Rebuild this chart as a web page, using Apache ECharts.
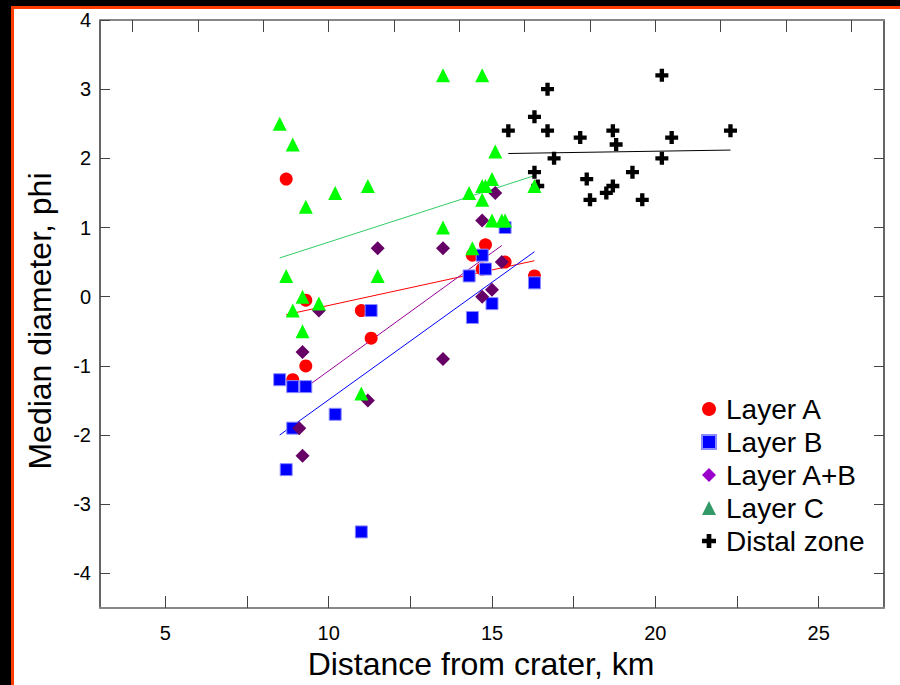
<!DOCTYPE html>
<html>
<head>
<meta charset="utf-8">
<script src="https://cdn.jsdelivr.net/npm/echarts@6/dist/echarts.min.js"></script>
<style>
  html, body { margin: 0; padding: 0; background: #000; }
  #frame { position: absolute; left: 11px; top: 6px; width: 886px; height: 676px; background: #fff; border-left: 3px solid #ff3c00; border-top: 3px solid #ff3c00; }
  #chart { position: absolute; left: 0; top: 0; width: 900px; height: 685px; }
</style>
</head>
<body>
<div id="frame"></div>
<div id="chart"></div>
<script>
// Median diameter vs distance from crater
var layerA = [[8.7, 1.7], [14.8, 0.75], [14.4, 0.6], [15.4, 0.5], [14.7, 0.4], [16.3, 0.3],
  [9.3, -0.05], [11.0, -0.2], [11.3, -0.6], [9.3, -1.0], [8.9, -1.2]];
var layerB = [[14.7, 0.6], [14.8, 0.4], [14.3, 0.3], [15.4, 1.0], [16.3, 0.2], [11.3, -0.2],
  [14.4, -0.3], [15.0, -0.1], [8.5, -1.2], [8.9, -1.3], [9.3, -1.3], [10.2, -1.7],
  [8.9, -1.9], [8.7, -2.5], [11.0, -3.4]];
var layerAB = [[15.1, 1.5], [14.7, 1.1], [11.5, 0.7], [13.5, 0.7], [15.3, 0.5], [15.0, 0.1],
  [14.7, 0.0], [9.7, -0.2], [9.2, -0.8], [13.5, -0.9], [11.2, -1.5], [9.1, -1.9], [9.2, -2.3]];
var layerC = [[8.5, 2.5], [8.9, 2.2], [9.3, 1.3], [10.2, 1.5], [11.2, 1.6], [13.5, 3.2],
  [14.7, 3.2], [15.1, 2.1], [15.0, 1.7], [14.7, 1.6], [14.8, 1.6], [14.3, 1.5],
  [14.7, 1.4], [16.3, 1.6], [13.5, 1.0], [15.0, 1.1], [15.3, 1.1], [15.4, 1.1],
  [14.4, 0.7], [8.7, 0.3], [11.5, 0.3], [9.2, 0.0], [9.7, -0.1], [8.9, -0.2],
  [9.2, -0.5], [11.0, -1.4]];
var distal = [[16.7, 3.0], [20.2, 3.2], [16.3, 2.6], [15.5, 2.4], [16.7, 2.4], [17.7, 2.3],
  [18.7, 2.4], [18.8, 2.2], [20.5, 2.3], [22.3, 2.4], [16.9, 2.0], [20.2, 2.0],
  [16.3, 1.8], [16.4, 1.6], [19.3, 1.8], [17.9, 1.7], [18.7, 1.6], [18.5, 1.5],
  [18.0, 1.4], [19.6, 1.4]];

// regression lines, end points
var fitA = [[8.7, -0.26], [16.3, 0.52]];
var fitB = [[8.5, -2.0], [16.3, 0.65]];
var fitAB = [[9.1, -1.38], [15.3, 0.74]];
var fitC = [[8.5, 0.56], [16.3, 1.75]];
var fitDistal = [[15.5, 2.07], [22.3, 2.12]];

var xTicks = [5, 7.5, 10, 12.5, 15, 17.5, 20, 22.5, 25];
var xLabels = [5, 10, 15, 20, 25];
var xTopTicks = [4, 6, 8, 10, 12, 14, 16, 18, 20, 22, 24, 26];
var yTicks = [-4, -3, -2, -1, 0, 1, 2, 3, 4];
var yRightTicks = [-4, -3, -2, -1, 0, 1, 2, 3];

var crossPath = 'path://M4,0H8V4H12V8H8V12H4V8H0V4H4Z';
var font = 'Liberation Sans, Arial, sans-serif';

function fitLine(data, color) {
  return {
    type: 'line', data: data, symbol: 'none', silent: true,
    lineStyle: { color: color, width: 1 }, z: 1
  };
}

var chart = echarts.init(document.getElementById('chart'), null, { renderer: 'svg' });
chart.setOption({
  animation: false,
  backgroundColor: 'transparent',
  textStyle: { fontFamily: font },
  grid: { left: 100, top: 20, right: 16, bottom: 77 },
  legend: {
    orient: 'vertical',
    left: 696, top: 389,
    itemWidth: 14, itemHeight: 14, itemGap: 3,
    textStyle: { color: '#000', fontSize: 28, lineHeight: 30, fontFamily: font, padding: [0, 0, 0, 5] },
    data: [
      { name: 'Layer A', icon: 'circle', itemStyle: { color: '#ff0000' } },
      { name: 'Layer B', icon: 'rect', itemStyle: { color: '#0000ff' } },
      { name: 'Layer A+B', icon: 'diamond', itemStyle: { color: '#9900cc' } },
      { name: 'Layer C', icon: 'triangle', itemStyle: { color: '#339966' } },
      { name: 'Distal zone', icon: crossPath, itemStyle: { color: '#000' } }
    ]
  },
  xAxis: [{
    type: 'value', position: 'bottom', min: 3, max: 27,
    name: 'Distance from crater, km', nameLocation: 'middle', nameGap: 37,
    nameTextStyle: { color: '#000', fontSize: 32, fontFamily: font, padding: [0, 22, 0, 0] },
    axisLine: { onZero: false, lineStyle: { color: '#888', width: 2 } },
    axisTick: { inside: true, length: 12, customValues: xTicks, lineStyle: { color: '#444' } },
    axisLabel: { color: '#000', fontSize: 20, margin: 15, customValues: xLabels },
    splitLine: { show: false }
  }, {
    type: 'value', position: 'top', min: 3, max: 27,
    axisLine: { onZero: false, lineStyle: { color: '#888', width: 2 } },
    axisTick: { inside: true, length: 12, customValues: xTopTicks, lineStyle: { color: '#444' } },
    axisLabel: { show: false },
    splitLine: { show: false }
  }],
  yAxis: [{
    type: 'value', position: 'left', min: -4.5, max: 4,
    name: 'Median diameter, phi', nameLocation: 'middle', nameGap: 44,
    nameTextStyle: { color: '#000', fontSize: 32, fontFamily: font, padding: [0, 14, 0, 0] },
    axisLine: { show: true, onZero: false, lineStyle: { color: '#333', width: 1.5 } },
    axisTick: { show: true, inside: true, length: 10, customValues: yTicks, lineStyle: { color: '#444' } },
    axisLabel: { color: '#000', fontSize: 20, margin: 9, customValues: yTicks },
    splitLine: { show: false }
  }, {
    type: 'value', position: 'right', min: -4.5, max: 4,
    axisLine: { show: true, onZero: false, lineStyle: { color: '#333', width: 1.5 } },
    axisTick: { show: true, inside: true, length: 10, customValues: yRightTicks, lineStyle: { color: '#444' } },
    axisLabel: { show: false },
    splitLine: { show: false }
  }],
  series: [
    fitLine(fitC, '#33cc66'),
    fitLine(fitA, '#ff0000'),
    fitLine(fitAB, '#990099'),
    fitLine(fitB, '#0000ff'),
    fitLine(fitDistal, '#000000'),
    { name: 'Distal zone', type: 'scatter', data: distal, symbol: crossPath, symbolSize: 13,
      itemStyle: { color: '#000', opacity: 1 }, z: 2 },
    { name: 'Layer A', type: 'scatter', data: layerA, symbol: 'circle', symbolSize: 13,
      itemStyle: { color: '#ff0000', opacity: 1 }, z: 3 },
    { name: 'Layer B', type: 'scatter', data: layerB, symbol: 'rect', symbolSize: 12,
      itemStyle: { color: '#0000ff', borderColor: '#8c8cff', borderWidth: 1, opacity: 1 }, z: 4 },
    { name: 'Layer A+B', type: 'scatter', data: layerAB, symbol: 'diamond', symbolSize: 14,
      itemStyle: { color: '#660066', opacity: 1 }, z: 5 },
    { name: 'Layer C', type: 'scatter', data: layerC, symbol: 'triangle', symbolSize: 14,
      itemStyle: { color: '#00ff00', opacity: 1 }, z: 6 }
  ]
});
</script>
</body>
</html>
